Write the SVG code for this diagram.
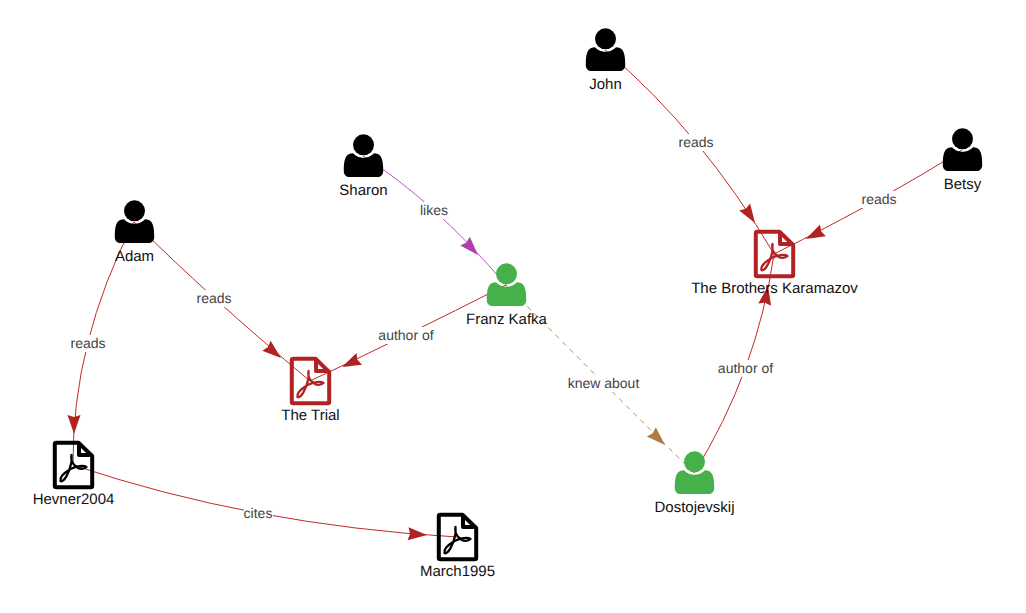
<svg xmlns="http://www.w3.org/2000/svg" width="1026" height="613" viewBox="0 0 1026 613">
<style>
text{font-family:"Liberation Sans",Arial,sans-serif;text-anchor:middle;text-rendering:geometricPrecision}
.n{font-size:15px;fill:#111;stroke:none}
.l{font-size:14px;fill:#444}
.b{fill:#fff}
.e{fill:none;stroke-width:1}
.r{stroke:#c02a2a}.rf{fill:#b22222}
.p{stroke:#bf55bf}.pf{fill:#b23fb2}
.o{stroke:#b9854f;stroke-dasharray:5 5}.of{fill:#b07a42}
.pdf{fill:none;stroke-width:4;stroke-linejoin:round}
.glyph{fill:none;stroke-width:2.300;stroke-linecap:round;stroke-linejoin:round}
</style>
<defs>
<path id="a" d="M0 0L-19 -6.500L-17 0L-19 6.500Z"/>
<g id="person"><circle cx="0" cy="-11.200" r="10.500"/><path d="M-19.700 15C-19.700 6 -19 -3 -10.500 -2.700C-7 1 -3 1.800 0 1.800C3 1.800 7 1 10.500 -2.700C19 -3 19.700 6 19.700 15C19.700 19 17 21 14 21H-14C-17 21 -19.700 19 -19.700 15Z"/></g>
<g id="pdf"><path class="pdf" d="M-17 -22.300H5L18.700 -9V21Q18.700 22.300 17 22.300H-17Q-18.700 22.300 -18.700 21V-21Q-18.700 -22.300 -17 -22.300Z"/><path class="pdf" d="M5.500 -22V-10H18"/><path class="glyph" d="M-13 16C-10 18 -4 8 -2 -3C-2 -7 -2 -9 -2 -10C-3 -6 -1 -1 3 2C6 5 11 4 13 2C10 0 3 1 -3 4C-8 7 -14 12 -13 16Z"/></g>
</defs>
<g id="connectors">
<path class="e r" d="M605 50Q702 132 774 254"/>
<use href="#a" class="rf" transform="translate(755 223) rotate(57)"/>
<path class="e r" d="M962 150Q890 196 774 254"/>
<use href="#a" class="rf" transform="translate(806 239) rotate(153)"/>
<path class="e p" d="M363 156Q433 200 506 285"/>
<use href="#a" class="pf" transform="translate(478 255) rotate(47)"/>
<path class="e r" d="M506 285Q404 337 310 381"/>
<use href="#a" class="rf" transform="translate(342 367) rotate(155)"/>
<path class="e r" d="M134 222Q206 294 310 381"/>
<use href="#a" class="rf" transform="translate(281 358) rotate(40)"/>
<path class="e r" d="M134 222Q72 342 73 465"/>
<use href="#a" class="rf" transform="translate(74 434) rotate(90)"/>
<path class="e r" d="M73 465Q251 525 457 537"/>
<use href="#a" class="rf" transform="translate(427 535) rotate(4)"/>
<path class="e o" d="M506 285Q607 387 694 473"/>
<use href="#a" class="of" transform="translate(665 445) rotate(44)"/>
<path class="e r" d="M694 473Q757 372 774 254"/>
<use href="#a" class="rf" transform="translate(768 286) rotate(-80)"/>
</g>
<g id="edge-labels">
<rect class="b" x="678" y="134" width="36" height="17"/><text class="l" x="696" y="147">reads</text>
<rect class="b" x="861" y="191" width="36" height="17"/><text class="l" x="879" y="204">reads</text>
<rect class="b" x="420" y="202" width="29" height="17"/><text class="l" x="434" y="215">likes</text>
<rect class="b" x="196" y="290" width="36" height="17"/><text class="l" x="214" y="303">reads</text>
<rect class="b" x="70" y="335" width="36" height="17"/><text class="l" x="88" y="348">reads</text>
<rect class="b" x="378" y="327" width="56" height="17"/><text class="l" x="406" y="340">author of</text>
<rect class="b" x="717" y="360" width="57" height="17"/><text class="l" x="745.500" y="373">author of</text>
<rect class="b" x="567" y="375" width="73" height="17"/><text class="l" x="603.500" y="388">knew about</text>
<rect class="b" x="244" y="505" width="29" height="17"/><text class="l" x="258" y="518">cites</text>
</g>
<g id="john"><use href="#person" transform="translate(605.500 50)"/><text class="n" x="605.500" y="88.700">John</text></g>
<g id="betsy"><use href="#person" transform="translate(962.500 150)"/><text class="n" x="962.500" y="188.700">Betsy</text></g>
<g id="sharon"><use href="#person" transform="translate(363.500 156)"/><text class="n" x="363.500" y="194.700">Sharon</text></g>
<g id="adam"><use href="#person" transform="translate(134.500 222)"/><text class="n" x="134.500" y="260.700">Adam</text></g>
<g id="kafka" fill="#46b04a"><use href="#person" transform="translate(506.500 285)"/><text class="n" x="506.500" y="323.700">Franz Kafka</text></g>
<g id="dostojevskij" fill="#46b04a"><use href="#person" transform="translate(694.500 473)"/><text class="n" x="694.500" y="511.700">Dostojevskij</text></g>
<g id="brothers" stroke="#b22222"><use href="#pdf" transform="translate(774.500 254)"/><text class="n" x="774.500" y="292.700">The Brothers Karamazov</text></g>
<g id="trial" stroke="#b22222"><use href="#pdf" transform="translate(310.500 381)"/><text class="n" x="310.500" y="419.700">The Trial</text></g>
<g id="hevner" stroke="#000"><use href="#pdf" transform="translate(73.500 465)"/><text class="n" x="73.500" y="503.700">Hevner2004</text></g>
<g id="march" stroke="#000"><use href="#pdf" transform="translate(457.500 537)"/><text class="n" x="457.500" y="575.700">March1995</text></g>
</svg>
